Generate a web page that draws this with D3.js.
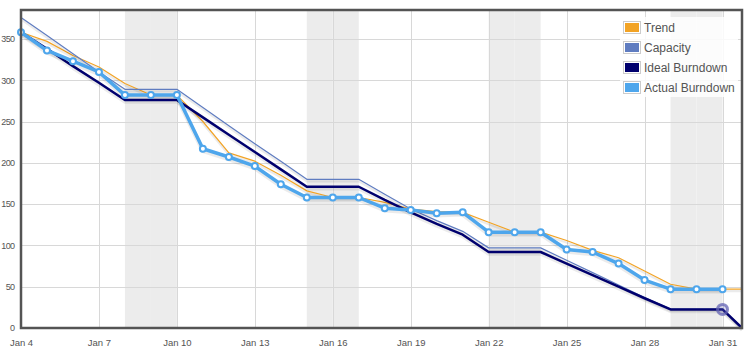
<!DOCTYPE html>
<html>
<head>
<meta charset="utf-8">
<script src="https://cdn.jsdelivr.net/npm/d3@7"></script>
<style>
  body { margin: 0; background: #fff; }
  #chart { width: 750px; height: 351px; }
  text { font-family: "Liberation Sans", Arial, sans-serif; fill: #545454; }
</style>
</head>
<body>
<div id="chart"></div>
<script>
// Sprint burndown, Jan 4 - Jan 31 2011
const days = ["2011-01-04","2011-01-05","2011-01-06","2011-01-07","2011-01-08","2011-01-09","2011-01-10",
  "2011-01-11","2011-01-12","2011-01-13","2011-01-14","2011-01-15","2011-01-16","2011-01-17",
  "2011-01-18","2011-01-19","2011-01-20","2011-01-21","2011-01-22","2011-01-23","2011-01-24",
  "2011-01-25","2011-01-26","2011-01-27","2011-01-28","2011-01-29","2011-01-30","2011-01-31"];
const endTime = "2011-01-31T18:00";
const weekendDays = ["2011-01-08","2011-01-09","2011-01-15","2011-01-16","2011-01-22","2011-01-23","2011-01-29","2011-01-30"];
const xTicks = ["2011-01-04","2011-01-07","2011-01-10","2011-01-13","2011-01-16","2011-01-19","2011-01-22","2011-01-25","2011-01-28","2011-01-31"];
const yTicks = [0, 50, 100, 150, 200, 250, 300, 350];

const actual   = [358,336,323,310,282,282,282,217,207,196,174,158,158,158,145,143,139,140,116,116,116,95,92,78,58,47,47,47];
const trend    = [358,347,330,316,296,282,282,250,212,202,185,166,158,158,152,144,141,140,128,116,116,106,94,85,69,53,47,47, 47];
const ideal    = [358,338,317,297,276,276,276,255,234,213,192,171,171,171,155,140,126,113,92,92,92,78,64,50,36,22.5,22.5,22.5, 0];
const capacity = [376,354,332,310,289,289,289,267,245,223,202,180,180,180,162,144,130,117,97,97,97,82,67,52,37,23,23,23, 0];

const legendNames = ["Trend", "Capacity", "Ideal Burndown", "Actual Burndown"];
const colors = ["#f2a325", "#5f7cc0", "#00006e", "#4ea6ec"];
const widths = [1.2, 1.2, 2.5, 3.5];

const W = 750, H = 351;
const pL = 21, pR = 742, pT = 10, pB = 328;
const parse = d3.utcParse("%Y-%m-%d");
const parseT = d3.utcParse("%Y-%m-%dT%H:%M");
const dates = days.map(parse);
const endDate = parseT(endTime);

const svg = d3.select("#chart").append("svg").attr("width", W).attr("height", H);
const x = d3.scaleUtc().domain([dates[0], endDate]).range([pL, pR]);
const y = d3.scaleLinear().domain([0, 385]).range([pB, pT]);

// weekend shading
svg.append("g").selectAll("rect").data(weekendDays).join("rect")
  .attr("x", d => x(parse(d)))
  .attr("width", d => x(d3.utcDay.offset(parse(d), 1)) - x(parse(d)))
  .attr("y", pT).attr("height", pB - pT)
  .attr("fill", "#ececec");

// grid
const grid = svg.append("g").attr("stroke", "#d8d8d8").attr("stroke-width", 1);
grid.selectAll(".gy").data(yTicks).join("line")
  .attr("x1", pL).attr("x2", pR)
  .attr("y1", d => Math.round(y(d)) + 0.5).attr("y2", d => Math.round(y(d)) + 0.5);
grid.selectAll(".gx").data(xTicks).join("line")
  .attr("y1", pT).attr("y2", pB)
  .attr("x1", d => Math.round(x(parse(d))) + 0.5).attr("x2", d => Math.round(x(parse(d))) + 0.5);

// axes labels
const xAxis = d3.axisBottom(x).tickValues(xTicks.map(parse)).tickFormat(d3.utcFormat("%b %-d")).tickSize(0).tickPadding(11);
svg.append("g").attr("transform", `translate(0,${pB})`).call(xAxis)
  .call(g => g.select(".domain").remove())
  .selectAll("text").attr("font-size", 9.5).attr("fill", "#545454").attr("font-family", "Liberation Sans, Arial, sans-serif");
const yAxis = d3.axisLeft(y).tickValues(yTicks).tickSize(0).tickPadding(6.5);
svg.append("g").attr("transform", `translate(${pL},0)`).call(yAxis)
  .call(g => g.select(".domain").remove())
  .selectAll("text").attr("font-size", 9).attr("letter-spacing", -0.6).attr("fill", "#545454").attr("font-family", "Liberation Sans, Arial, sans-serif");

// series
const seriesDates = dates.concat([endDate]);
const series = [trend, capacity, ideal, actual];
const plot = svg.append("g");
series.forEach((vals, i) => {
  const pts = vals.map((v, j) => [seriesDates[j], v]);
  const line = d3.line().x(d => x(d[0])).y(d => y(d[1]));
  // soft shadow like flot
  plot.append("path").attr("d", line(pts)).attr("fill", "none")
    .attr("stroke", "rgba(0,0,0,0.08)").attr("stroke-width", widths[i] + 1)
    .attr("transform", "translate(0,2)").attr("stroke-linejoin", "round");
  plot.append("path").attr("d", line(pts)).attr("fill", "none")
    .attr("stroke", colors[i]).attr("stroke-width", widths[i]).attr("stroke-linejoin", "round");
});

// actual points
plot.selectAll("circle.pt").data(actual).join("circle")
  .attr("cx", (d, j) => x(dates[j])).attr("cy", d => y(d)).attr("r", 3)
  .attr("fill", "#fff").attr("stroke", colors[3]).attr("stroke-width", 2);

// highlight on last ideal point
plot.append("circle")
  .attr("cx", x(dates[dates.length - 1])).attr("cy", y(ideal[dates.length - 1])).attr("r", 5)
  .attr("fill", "rgba(110,110,190,0.25)").attr("stroke", "rgba(100,100,180,0.75)").attr("stroke-width", 3);

// frame
svg.append("rect").attr("x", pL).attr("y", pT).attr("width", pR - pL).attr("height", pB - pT)
  .attr("fill", "none").attr("stroke", "#545454").attr("stroke-width", 2.5);

// legend
const lg = svg.append("g").attr("transform", "translate(620,17)");
lg.append("rect").attr("width", 118).attr("height", 80).attr("fill", "#fff").attr("opacity", 0.85);
const row = lg.selectAll("g").data(legendNames).join("g").attr("transform", (d, i) => `translate(3,${4 + i * 20})`);
row.append("rect").attr("x", 0.5).attr("y", 0.5).attr("width", 17).attr("height", 12).attr("fill", "none").attr("stroke", "#ccc");
row.append("rect").attr("x", 2).attr("y", 2).attr("width", 14).attr("height", 9).attr("fill", (d, i) => colors[i]);
row.append("text").attr("x", 21).attr("y", 10.5).attr("font-size", 12).text(d => d);
</script>
</body>
</html>
